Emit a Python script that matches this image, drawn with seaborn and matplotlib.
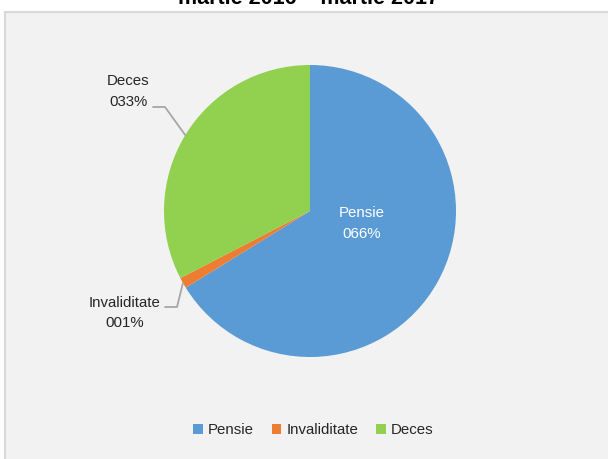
import numpy as np
import matplotlib
matplotlib.use("Agg")
import matplotlib.pyplot as plt
import seaborn as sns
from matplotlib.patches import Rectangle

# ---------- Data ----------
categories = ["Pensie", "Invaliditate", "Deces"]
shares = [66.2, 1.2, 32.6]
colors = ["#5B9BD5", "#ED7D31", "#92D050"]
title = "martie 2016 \u2013 martie 2017"

W, H = 608, 459
CX, CY, R = 310, 211, 146  # pie centre / radius in pixels

sns.set_theme(style="white")
plt.rcParams["font.family"] = ["Liberation Sans", "DejaVu Sans"]

fig = plt.figure(figsize=(W / 100, H / 100), dpi=100)
fig.patch.set_facecolor("white")

# chart area box (extends past right/bottom edges like the crop)
fig.patches.append(Rectangle((5 / W, -0.02), 1.02, 1 - 11.5 / H + 0.02,
                             transform=fig.transFigure, facecolor="#F2F2F2",
                             edgecolor="#D9D9D9", lw=1.5, zorder=-1))

fig.text(308 / W, 1 - 4.5 / H, title, ha="center", va="baseline",
         fontsize=15.5, fontweight="bold", color="#000000")

# ---------- Pie ----------
ax = fig.add_axes([(CX - R) / W, (H - CY - R) / H, 2 * R / W, 2 * R / H])
wedges, _ = ax.pie(shares, colors=colors, startangle=90, counterclock=False,
                   radius=1, wedgeprops=dict(linewidth=0))
ax.set_xlim(-1, 1)
ax.set_ylim(-1, 1)
ax.axis("off")

# overlay in pixel coordinates for labels and leader lines
ov = fig.add_axes([0, 0, 1, 1])
ov.set_xlim(0, W)
ov.set_ylim(H, 0)
ov.axis("off")

def edge_point(w):
    mid = np.deg2rad((w.theta1 + w.theta2) / 2)
    return CX + R * np.cos(mid), CY - R * np.sin(mid)

labels = [f"{c}\n{round(v):03d}%" for c, v in zip(categories, shares)]
fs = 10.8
ls = 1.55

# Pensie label inside the slice
ov.text(362, 223.5, labels[0], ha="center", va="center", fontsize=fs,
        color="white", linespacing=ls)

# Invaliditate label with leader
ex, ey = edge_point(wedges[1])
ov.plot([165, 177, ex], [307, 307, ey], color="#A6A6A6", lw=1.3)
ov.text(125, 313, labels[1], ha="center", va="center", fontsize=fs,
        color="#262626", linespacing=ls)

# Deces label with leader
ex, ey = edge_point(wedges[2])
ov.plot([153, 165, ex], [107, 107, ey], color="#A6A6A6", lw=1.3)
ov.text(128, 91.5, labels[2], ha="center", va="center", fontsize=fs,
        color="#262626", linespacing=ls)

# ---------- Legend ----------
leg = fig.legend(wedges, categories, loc="center", ncol=3, frameon=False,
                 bbox_to_anchor=(313.5 / W, 1 - 430 / H), fontsize=fs,
                 handlelength=0.62, handleheight=0.62, handletextpad=0.35,
                 columnspacing=1.2, labelcolor="#262626")

fig.savefig("out.png", dpi=100, facecolor=fig.get_facecolor())
